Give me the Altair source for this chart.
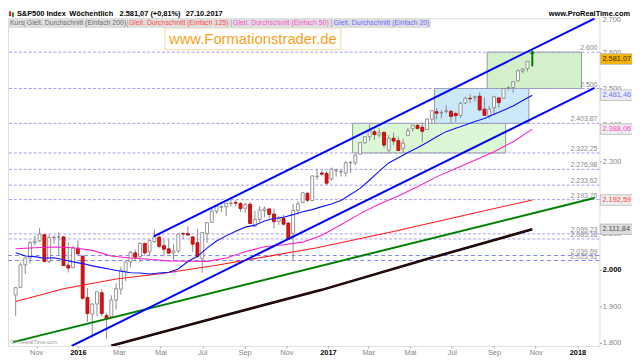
import altair as alt
import pandas as pd

FONT = "Liberation Sans"

# ---------------- data (weekly S&P 500 candles, Friday of each week) ----------------
first_friday = "2015-10-02"
opens = [1931, 1952, 2014, 2033, 2075, 2080, 2097, 2023, 2089, 2091,
         2091, 2013, 2006, 2060, 2038, 1924, 1878, 1906, 1937, 1874,
         1872, 1917, 1947, 1996, 2022, 2047, 2037, 2073, 2050, 2078,
         2090, 2067, 2058, 2047, 2052, 2100, 2100, 2091, 2075, 2031,
         2100, 2131, 2162, 2173, 2174, 2183, 2186, 2183, 2170, 2181,
         2120, 2139, 2163, 2168, 2154, 2134, 2142, 2129, 2101, 2164,
         2186, 2211, 2191, 2258, 2267, 2266, 2251, 2273, 2270, 2267,
         2295, 2295, 2319, 2350, 2367, 2381, 2372, 2379, 2330, 2363,
         2356, 2335, 2370, 2389, 2398, 2393, 2387, 2415, 2436, 2433,
         2437, 2437, 2431, 2426, 2460, 2473, 2475, 2479, 2443, 2425,
         2447, 2474, 2473, 2501, 2503, 2521, 2548, 2555, 2578]
highs = [1953, 2020, 2034, 2080, 2094, 2116, 2097, 2097, 2095, 2104,
         2093, 2076, 2067, 2081, 2038, 1950, 1908, 1940, 1947, 1881,
         1930, 1963, 2009, 2022, 2052, 2056, 2075, 2075, 2084, 2111,
         2099, 2084, 2084, 2071, 2099, 2104, 2120, 2091, 2113, 2104,
         2131, 2169, 2176, 2178, 2183, 2194, 2193, 2187, 2185, 2187,
         2163, 2176, 2175, 2169, 2169, 2148, 2152, 2131, 2182, 2189,
         2214, 2214, 2260, 2278, 2274, 2273, 2282, 2279, 2277, 2301,
         2299, 2319, 2352, 2368, 2401, 2386, 2390, 2382, 2371, 2378,
         2367, 2362, 2392, 2399, 2403, 2406, 2419, 2440, 2446, 2441,
         2454, 2442, 2436, 2463, 2478, 2484, 2480, 2490, 2475, 2452,
         2480, 2475, 2500, 2508, 2520, 2552, 2557, 2575, 2582]
lows = [1872, 1951, 1988, 2017, 2067, 2077, 2022, 2019, 2071, 2042,
        2012, 1993, 2005, 2044, 1918, 1857, 1812, 1872, 1872, 1810,
        1872, 1891, 1931, 1969, 2007, 2023, 2022, 2039, 2039, 2075,
        2060, 2039, 2046, 2025, 2047, 2085, 2096, 2050, 2033, 1992,
        2074, 2131, 2155, 2159, 2148, 2175, 2175, 2160, 2157, 2128,
        2119, 2132, 2145, 2142, 2114, 2124, 2122, 2083, 2028, 2152,
        2186, 2187, 2191, 2248, 2258, 2234, 2245, 2257, 2258, 2257,
        2267, 2289, 2319, 2349, 2355, 2358, 2364, 2336, 2322, 2344,
        2328, 2322, 2370, 2380, 2387, 2353, 2386, 2403, 2415, 2418,
        2431, 2405, 2407, 2418, 2457, 2459, 2464, 2437, 2425, 2417,
        2428, 2446, 2473, 2495, 2488, 2520, 2542, 2547, 2544]
closes = [1951, 2014, 2033, 2075, 2079, 2099, 2023, 2089, 2090, 2091,
          2012, 2005, 2060, 2044, 1922, 1880, 1906, 1940, 1880, 1865,
          1917, 1948, 1999, 2022, 2049, 2035, 2073, 2047, 2081, 2091,
          2065, 2057, 2046, 2052, 2099, 2099, 2096, 2071, 2037, 2103,
          2130, 2162, 2175, 2174, 2183, 2184, 2184, 2169, 2180, 2128,
          2139, 2165, 2168, 2153, 2133, 2141, 2126, 2085, 2164, 2182,
          2213, 2192, 2259, 2258, 2264, 2239, 2277, 2275, 2271, 2295,
          2297, 2316, 2351, 2367, 2383, 2373, 2378, 2344, 2363, 2355,
          2329, 2349, 2384, 2399, 2390, 2382, 2416, 2439, 2432, 2433,
          2438, 2423, 2425, 2459, 2473, 2472, 2477, 2441, 2426, 2443,
          2477, 2461, 2500, 2502, 2519, 2549, 2553, 2575, 2581.07]

# moving averages, read at every 2nd / 4th week
sma20_weeks = list(range(0, 109, 2))
sma20 = [2047.4, 2038.1, 2036.5, 2032.0, 2033.3, 2028.1, 2022.2, 2017.4, 2011.2, 2006.2,
         2001.2, 1996.2, 1992.1, 1991.4, 1988.8, 1991.5, 1993.4, 2002.6, 2023.1, 2037.5,
         2060.0, 2079.5, 2093.8, 2106.8, 2117.9, 2123.4, 2134.9, 2141.7, 2145.3, 2152.3,
         2160.4, 2166.1, 2174.4, 2181.8, 2191.6, 2207.9, 2224.6, 2247.8, 2272.0, 2294.9,
         2309.3, 2323.4, 2336.8, 2350.9, 2367.1, 2381.1, 2390.1, 2399.2, 2409.1, 2417.1,
         2428.9, 2440.3, 2451.9, 2467.1, 2481.46]
sma50_weeks = list(range(0, 109, 4))
sma50 = [2058.3, 2061.2, 2063.0, 2061.1, 2053.8, 2038.2, 2032.7, 2029.3, 2025.0, 2024.0,
         2023.6, 2032.6, 2050.3, 2063.8, 2069.3, 2076.5, 2095.4, 2124.5, 2155.1, 2181.5,
         2203.7, 2229.0, 2256.4, 2279.3, 2302.5, 2325.9, 2353.1, 2388.06]
sma125_weeks = [0, 10, 21, 31, 42, 53, 63, 79, 95, 108]
sma125 = [1913, 1948, 1975, 1991, 2013, 2038, 2061, 2106, 2154, 2192.59]
sma200_weeks = [20, 44, 64, 86, 108]
sma200 = [1791, 1876, 1945, 2030, 2111.84]

# trend lines
upper_dates = ["2016-04-21T00:00:00", "2018-01-26T00:00:00"]
upper_vals = [2092.5, 2692.8]
lower_dates = ["2015-12-23T00:00:00", "2018-01-26T00:00:00"]
lower_vals = [1790.5, 2501.5]
support_dates = ["2015-09-28T00:00:00", "2018-01-26T00:00:00"]
support_vals = [1801, 2198]

# horizontal levels
level_values = [2600, 2500, 2403.87, 2322.25, 2276.98, 2233.62, 2193.76, 2099.23, 2085.18]
level_labels = ["2.600", "2.500", "2.403,87", "2.322,25", "2.276,98", "2.233,62", "2.193,76", "2.099,23", "2.085,18"]
level2_values = [2039.69, 2025.91]
level2_labels = ["2.039,69", "2.025,91"]

# zones
zone_starts = ["2017-02-06T00:00:00", "2017-06-06T00:00:00", "2017-08-22T00:00:00"]
zone_ends = ["2017-09-18T00:00:00", "2017-10-22T00:00:00", "2018-01-07T00:00:00"]
zone_lows = [2322.25, 2403.87, 2500]
zone_highs = [2403.87, 2500, 2600]
zone_fills = ["#dcf7d5", "#cce9f9", "#d3f0cb"]

# value tags on the right
tag_values = [2581.07, 2481.46, 2388.06, 2192.59, 2111.84]
tag_texts = ["2.581,07", "2.481,46", "2.388,06", "2.192,59", "2.111,84"]
tag_fills = ["#f6b400", "#ececf4", "#eeeeee", "#eeeeee", "#dcdcdc"]
tag_colors = ["#3a2a00", "#6c6cff", "#ff3fc8", "#ff4040", "#505050"]

x_tick_months = [(2015, 11), (2016, 1), (2016, 3), (2016, 5), (2016, 7), (2016, 9), (2016, 11),
                 (2017, 1), (2017, 3), (2017, 5), (2017, 7), (2017, 9), (2017, 11), (2018, 1)]
y_ticks = [1800, 1900, 2000, 2100, 2200, 2300, 2400, 2500, 2600]

# ---------------- build ----------------
W, H = 599, 332
dates = [d.strftime("%Y-%m-%dT00:00:00") for d in pd.date_range(first_friday, periods=len(closes), freq="7D")]

X_SCALE = alt.Scale(domain=[alt.DateTime(year=2015, month=9, date=28),
                            alt.DateTime(year=2018, month=1, date=26)])
Y_SCALE = alt.Scale(domain=[1790.5, 2693.9], nice=False, zero=False)

X_AXIS = alt.Axis(
    title=None, grid=False,
    values=[alt.DateTime(year=y, month=m, date=1) for y, m in x_tick_months],
    labelExpr="month(datum.value) == 0 ? timeFormat(datum.value, '%Y') : "
              "['Jan','Feb','Mar','Apr','Mai','Jun','Jul','Aug','Sep','Okt','Nov','Dez'][month(datum.value)]",
    labelFontSize=7.5, labelFont=FONT,
    labelColor={"condition": {"test": "month(datum.value) == 0", "value": "#000000"}, "value": "#858585"},
    labelFontWeight={"condition": {"test": "month(datum.value) == 0", "value": "bold"}, "value": "normal"},
    tickSize=2, tickColor="#aaaaaa", domain=False, labelPadding=1, labelFlush=False,
)
Y_AXIS = alt.Axis(
    title=None, grid=False, orient="right", values=y_ticks,
    labelExpr="replace(format(datum.value, ','), ',', '.')",
    labelFontSize=7.5, labelFont=FONT,
    labelColor={"condition": {"test": "datum.value == 2000", "value": "#000000"}, "value": "#858585"},
    labelFontWeight={"condition": {"test": "datum.value == 2000", "value": "bold"}, "value": "normal"},
    tickSize=2, tickColor="#999999", domain=False, labelPadding=1,
)


def X(f):
    return alt.X(f"{f}:T", scale=X_SCALE, axis=X_AXIS)


def Y(f):
    return alt.Y(f"{f}:Q", scale=Y_SCALE, axis=Y_AXIS)


one = pd.DataFrame({"k": [0]})


def txt(s, x, y, size=7.0, color="#000000", weight="normal", align="left", baseline="middle"):
    return alt.Chart(one).mark_text(text=s, fontSize=size, color=color, fontWeight=weight,
                                    align=align, baseline=baseline, font=FONT).encode(
        x=alt.value(x), y=alt.value(y))


def pbox(x1, x2, y1, y2, fill, stroke=None):
    kw = {"fill": fill}
    if stroke:
        kw.update(stroke=stroke, strokeWidth=1)
    return alt.Chart(one).mark_rect(**kw).encode(
        x=alt.value(x1), x2=alt.value(x2), y=alt.value(y1), y2=alt.value(y2))


layers = []

# zones
for s, e, lo, hi, f in zip(zone_starts, zone_ends, zone_lows, zone_highs, zone_fills):
    zdf = pd.DataFrame({"s": [s], "e": [e], "lo": [lo], "hi": [hi]})
    layers.append(alt.Chart(zdf).mark_rect(fill=f, stroke="#8e9e8e", strokeWidth=1, clip=True).encode(
        x=X("s"), x2=alt.X2("e"), y=Y("lo"), y2=alt.Y2("hi")))

# levels
lv = pd.DataFrame({"v": level_values, "label": level_labels})
lv2 = pd.DataFrame({"v": level2_values, "label": level2_labels})
layers.append(alt.Chart(lv).mark_rule(color="#a99cf0", strokeWidth=1, strokeDash=[3, 2]).encode(y=Y("v")))
layers.append(alt.Chart(lv2).mark_rule(color="#7b86ff", strokeWidth=1, strokeDash=[4, 3]).encode(y=Y("v")))
for d in (lv, lv2):
    layers.append(alt.Chart(d).mark_text(align="right", baseline="middle", dy=-4, fontSize=7,
                                         color="#8c8c8c", font=FONT).encode(
        x=alt.value(W - 2), y=Y("v"), text="label:N"))

# candles (last week shown by the arrow)
cdf = pd.DataFrame({"date": dates, "open": opens, "high": highs, "low": lows, "close": closes}).iloc[:-1]
layers.append(alt.Chart(cdf).mark_rule(color="#8c8c8c", strokeWidth=1).encode(
    x=X("date"), y=Y("low"), y2=alt.Y2("high")))
up = "datum.close >= datum.open"
layers.append(alt.Chart(cdf).mark_bar(size=3, strokeWidth=0.8).encode(
    x=X("date"), y=Y("open"), y2=alt.Y2("close"),
    fill=alt.condition(up, alt.value("#ffffff"), alt.value("#e31212")),
    stroke=alt.condition(up, alt.value("#7c7c7c"), alt.value("#a80000"))))


def series(weeks, vals):
    return pd.DataFrame({"date": [dates[w] for w in weeks], "v": vals})


def line_layer(df, color, width):
    return alt.Chart(df).mark_line(color=color, strokeWidth=width, clip=True).encode(x=X("date"), y=Y("v"))


layers.append(line_layer(series(sma200_weeks, sma200), "#000000", 2.6))
layers.append(line_layer(series(sma200_weeks, sma200), "#5a1010", 0.8))
layers.append(line_layer(series(sma125_weeks, sma125), "#ff1a1a", 1.1))
layers.append(line_layer(pd.DataFrame({"date": support_dates, "v": support_vals}), "#008000", 2))
layers.append(line_layer(series(sma50_weeks, sma50), "#ff22cc", 1.1))
layers.append(line_layer(series(sma20_weeks, sma20), "#1010ff", 1.1))
layers.append(line_layer(pd.DataFrame({"date": upper_dates, "v": upper_vals}), "#0000ff", 2))
layers.append(line_layer(pd.DataFrame({"date": lower_dates, "v": lower_vals}), "#0000ff", 2))

# green arrow on the current week
adf = pd.DataFrame({"date": [dates[-1]], "lo": [2561], "hi": [2601]})
layers.append(alt.Chart(adf).mark_rule(color="#007a00", strokeWidth=2).encode(
    x=X("date"), y=Y("lo"), y2=alt.Y2("hi")))
layers.append(alt.Chart(adf).mark_point(shape="triangle-up", filled=True, size=22, color="#007a00",
                                        opacity=1).encode(x=X("date"), y=Y("hi")))

# value tags on the right
for v, t, f, c in zip(tag_values, tag_texts, tag_fills, tag_colors):
    tdf = pd.DataFrame({"lo": [v - 14.5], "hi": [v + 14.5], "v": [v], "t": [t]})
    layers.append(alt.Chart(tdf).mark_rect(fill=f, stroke="#b4b4b4", strokeWidth=0.8).encode(
        x=alt.value(W + 1), x2=alt.value(W + 34), y=Y("lo"), y2=alt.Y2("hi")))
    layers.append(alt.Chart(tdf).mark_text(fontSize=7.5, color=c, font=FONT, align="left",
                                           baseline="middle").encode(
        x=alt.value(W + 3), y=Y("v"), text="t:N"))
layers.append(txt("2.700", W + 3, 2, size=7.5, color="#858585"))

# watermark
layers.append(pbox(159, 337, 10, 32, "#ffffff", "#fbd6a2"))
layers.append(txt("www.Formationstrader.de", 248, 21, size=15, color="#f9a11b", align="center"))
layers.append(txt("\u00a9ProRealTime.com", 2, 328, size=5.5, color="#9a9a9a"))

# legend row
layers.append(pbox(0, 428, 0, 10, "#dedede"))
layers.append(txt("Kurs", 2, 5, color="#707070"))
layers.append(txt("|", 16, 5, color="#9a9a9a"))
layers.append(txt("Gleit. Durchschnitt (Einfach 200)", 19, 5, color="#6e6e6e"))
layers.append(txt("|", 120, 5, color="#9a9a9a"))
layers.append(txt("Gleit. Durchschnitt (Einfach 125)", 122.5, 5, color="#ff4d4d"))
layers.append(txt("|", 225, 5, color="#9a9a9a"))
layers.append(txt("Gleit. Durchschnitt (Einfach 50)", 228, 5, color="#ff4fd8"))
layers.append(txt("|", 327, 5, color="#9a9a9a"))
layers.append(txt("Gleit. Durchschnitt (Einfach 20)", 330, 5, color="#6a6aff"))

# header
layers.append(pbox(1, 3, -7, -2, "#e02020"))
layers.append(pbox(4, 6, -6, -1, "#20a020"))
layers.append(txt("S&P500 Index", 9, -4, size=7.5, weight="bold"))
layers.append(txt("Wöchentlich", 62, -4, size=7.5, weight="bold"))
layers.append(txt("2.581,07 (+0,81%)", 113, -4, size=7.5, weight="bold"))
layers.append(txt("27.10.2017", 180, -4, size=7.5, weight="bold"))
layers.append(txt("www.ProRealTime.com", W + 31, -4, size=7.5, weight="bold", align="right"))

chart = alt.layer(*layers).properties(
    width=W, height=H,
    padding={"left": 0, "top": 8, "right": 33, "bottom": 12},
    autosize=alt.AutoSizeParams(type="none"),
    background="#ffffff",
).configure_view(stroke="#c4c4c4", strokeWidth=1).configure(font=FONT)

chart.save("out.html", embed_options={"renderer": "svg", "actions": False})
